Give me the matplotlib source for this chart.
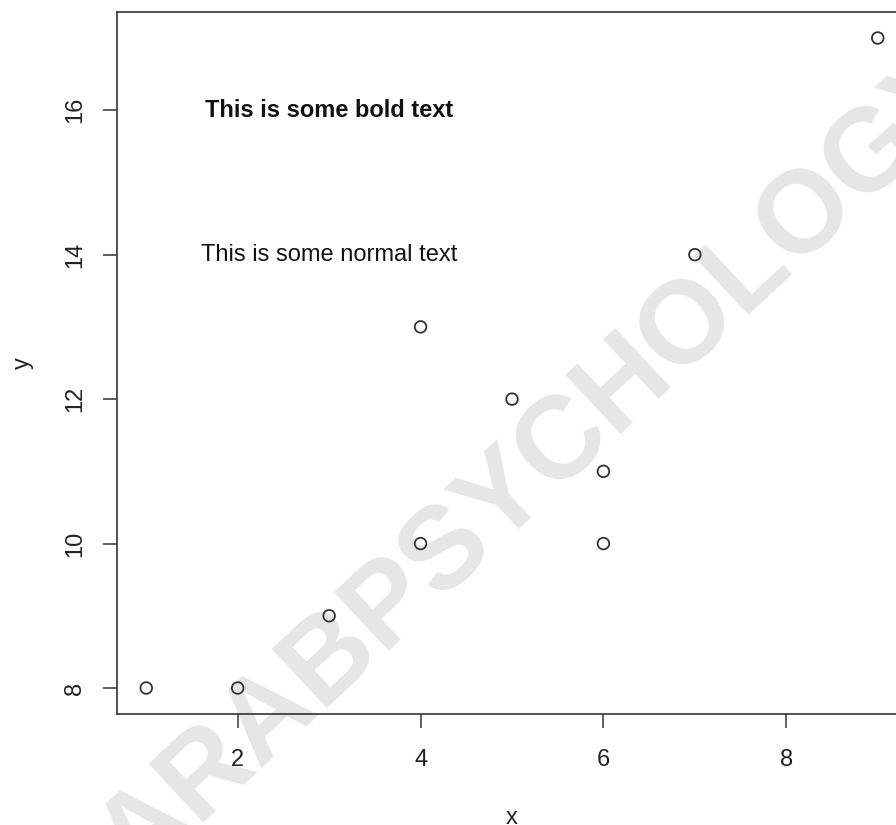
import matplotlib
matplotlib.use("Agg")
import matplotlib.pyplot as plt

# data
x_vals = [1, 2, 3, 4, 4, 5, 6, 6, 7, 9]
y_vals = [8, 8, 9, 10, 13, 12, 11, 10, 14, 17]
x_ticks = [2, 4, 6, 8]
y_ticks = [8, 10, 12, 14, 16]
notes = [(3, 16, "This is some bold text", "bold"),
         (3, 14, "This is some normal text", "normal")]

plt.rcParams['font.family'] = ['Liberation Sans', 'DejaVu Sans']

fig = plt.figure(figsize=(8.96, 8.25), dpi=100)
fig.patch.set_facecolor("white")

# watermark behind the plot
fig.text(540 / 896, 1 - 466 / 825, "ARABPSYCHOLOGY", rotation=43,
         fontsize=84, fontweight="bold", color="#e6e6e6",
         ha="center", va="center", rotation_mode="anchor", zorder=-1)

ax = fig.add_axes([117 / 896, 111 / 825, 790 / 896, 702 / 825])
ax.patch.set_alpha(0)

ax.scatter(x_vals, y_vals, s=70, facecolors="none", edgecolors="#333333",
           linewidths=1.3, zorder=3)

for tx, ty, label, weight in notes:
    ax.text(tx, ty, label, fontsize=17, fontweight=weight, color="#111111",
            ha="center", va="center")

ax.set_xlim(0.68, 9.32)
ax.set_ylim(7.64, 17.36)
ax.set_xticks(x_ticks)
ax.set_yticks(y_ticks)
ax.set_yticklabels([str(v) for v in y_ticks], rotation=90, va="center")

for sp in ax.spines.values():
    sp.set_color("#333333")
    sp.set_linewidth(1.2)

ax.tick_params(axis="both", direction="out", length=10, width=1.1,
               color="#333333", labelsize=17, labelcolor="#222222")
ax.tick_params(axis="x", pad=15)
ax.tick_params(axis="y", pad=12)

ax.set_xlabel("x", fontsize=17, color="#222222", labelpad=26)
ax.set_ylabel("y", fontsize=17, color="#222222", labelpad=22)

fig.savefig("out.png", dpi=100)
